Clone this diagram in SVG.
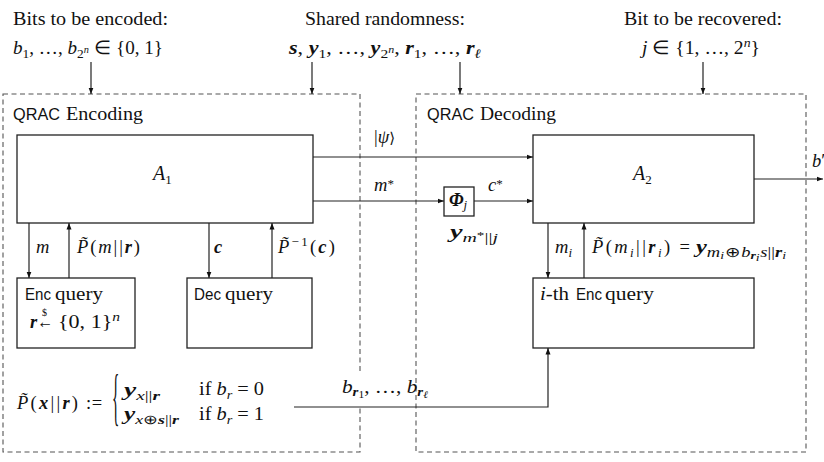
<svg xmlns="http://www.w3.org/2000/svg" width="824" height="462" viewBox="0 0 824 462">
<style>
.t{font-family:"Liberation Serif","Times New Roman",serif;font-size:18.5px;fill:#111}
.sf{font-family:"Liberation Sans",Arial,sans-serif;font-size:16.5px;fill:#111}
.i{font-style:italic}
.b{font-style:italic;font-weight:bold}
.s{font-size:13px}
.s2{font-size:14px}
.ss{font-size:10px}
.ss2{font-size:10.5px}
.big{font-size:20px}
.brace{font-size:64px}
.box{fill:#fff;stroke:#222;stroke-width:1.3}
.dash{fill:none;stroke:#555;stroke-width:1.1;stroke-dasharray:5 3.5}
.ln{fill:none;stroke:#222;stroke-width:1.2;marker-end:url(#ah)}
</style>
<defs>
<marker id="ah" markerWidth="7" markerHeight="6" refX="6.5" refY="3" orient="auto" markerUnits="userSpaceOnUse">
<path d="M0,0.5 L6.5,3 L0,5.5 z" fill="#111"/>
</marker>
</defs>
<rect width="824" height="462" fill="#fff"/>

<g id="bits-input">
<text class="t" x="13" y="25" textLength="155" lengthAdjust="spacingAndGlyphs">Bits to be encoded:</text>
<text class="t" x="13" y="54" textLength="150" lengthAdjust="spacingAndGlyphs"><tspan class="i">b</tspan><tspan class="s" dy="4">1</tspan><tspan dy="-4">, …, </tspan><tspan class="i">b</tspan><tspan class="s" dy="4">2</tspan><tspan class="ss i" dy="-5">n</tspan><tspan dy="1"> ∈ {0, 1}</tspan></text>
</g>

<g id="shared-randomness">
<text class="t" x="305" y="25" textLength="160" lengthAdjust="spacingAndGlyphs">Shared randomness:</text>
<text class="t" x="289" y="54" textLength="192" lengthAdjust="spacingAndGlyphs"><tspan class="b">s</tspan>, <tspan class="b">y</tspan><tspan class="s" dy="4">1</tspan><tspan dy="-4">, …, </tspan><tspan class="b">y</tspan><tspan class="s" dy="4">2</tspan><tspan class="ss i" dy="-5">n</tspan><tspan dy="1">, </tspan><tspan class="b">r</tspan><tspan class="s" dy="4">1</tspan><tspan dy="-4">, …, </tspan><tspan class="b">r</tspan><tspan class="s i" dy="4">ℓ</tspan></text>
</g>

<g id="bit-recover">
<text class="t" x="624" y="25" textLength="158" lengthAdjust="spacingAndGlyphs">Bit to be recovered:</text>
<text class="t" x="642" y="54" textLength="118" lengthAdjust="spacingAndGlyphs"><tspan class="i">j</tspan> ∈ {1, …, 2<tspan class="s i" dy="-7">n</tspan><tspan dy="7">}</tspan></text>
</g>

<g id="qrac-encoding">
<rect class="dash" x="3" y="94" width="357" height="358"/>
<text class="sf" x="13" y="120" textLength="47" lengthAdjust="spacingAndGlyphs">QRAC</text>
<text class="t" x="66" y="120" textLength="77" lengthAdjust="spacingAndGlyphs">Encoding</text>
</g>

<g id="ptilde-def">
<text class="t" x="17" y="409" textLength="61" lengthAdjust="spacing"><tspan class="i">P̃</tspan>(<tspan class="b">x</tspan>||<tspan class="b">r</tspan>)</text>
<text class="t" x="86" y="409">:<tspan dx="0.5">=</tspan></text>
<text class="t brace" transform="translate(112,418) scale(0.24,1)" x="0" y="0">{</text>
<text class="t" x="124" y="396" textLength="36" lengthAdjust="spacingAndGlyphs"><tspan class="b">y</tspan><tspan class="s i" dy="4">x</tspan><tspan class="s">||</tspan><tspan class="s b">r</tspan></text>
<text class="t" x="199" y="395" textLength="65" lengthAdjust="spacingAndGlyphs">if <tspan class="i">b</tspan><tspan class="s i" dy="4">r</tspan><tspan dy="-4"> = 0</tspan></text>
<text class="t" x="124" y="420" textLength="55" lengthAdjust="spacingAndGlyphs"><tspan class="b">y</tspan><tspan class="s i" dy="4">x</tspan><tspan class="s">⊕</tspan><tspan class="s b">s</tspan><tspan class="s">||</tspan><tspan class="s b">r</tspan></text>
<text class="t" x="199" y="420" textLength="65" lengthAdjust="spacingAndGlyphs">if <tspan class="i">b</tspan><tspan class="s i" dy="4">r</tspan><tspan dy="-4"> = 1</tspan></text>
</g>

<g id="b-label-bg">
<rect x="340" y="372" width="74" height="33" fill="#fff"/>
</g>

<g id="qrac-decoding">
<rect class="dash" x="416" y="94" width="390" height="358"/>
<text class="sf" x="427" y="120" textLength="47" lengthAdjust="spacingAndGlyphs">QRAC</text>
<text class="t" x="480" y="120" textLength="76" lengthAdjust="spacingAndGlyphs">Decoding</text>
</g>

<g id="A1">
<rect class="box" x="17" y="135" width="296" height="88"/>
<text class="t" x="153" y="180"><tspan class="i big">A</tspan><tspan class="s" dy="4">1</tspan></text>
</g>

<g id="A2">
<rect class="box" x="533" y="135" width="221" height="88"/>
<text class="t" x="633" y="180"><tspan class="i big">A</tspan><tspan class="s" dy="4">2</tspan></text>
</g>

<g id="phi">
<rect class="box" x="444" y="187" width="30" height="29"/>
<text class="t" x="449" y="206"><tspan class="b">Φ</tspan><tspan class="s i" dy="3">j</tspan></text>
</g>

<g id="enc-query">
<rect class="box" x="17" y="278" width="118" height="70"/>
<text class="sf" x="25" y="300" textLength="26" lengthAdjust="spacingAndGlyphs">Enc</text>
<text class="t" x="55" y="300" textLength="48" lengthAdjust="spacingAndGlyphs">query</text>
<text class="t" x="30" y="328"><tspan class="b">r</tspan></text>
<text class="t" x="37" y="328" textLength="16" lengthAdjust="spacingAndGlyphs">←</text>
<text class="t ss" x="42" y="316">$</text>
<text class="t" x="58" y="328" textLength="62" lengthAdjust="spacingAndGlyphs">{0, 1}<tspan class="s i" dy="-7">n</tspan></text>
</g>

<g id="dec-query">
<rect class="box" x="187" y="278" width="125" height="70"/>
<text class="sf" x="194" y="300" textLength="27" lengthAdjust="spacingAndGlyphs">Dec</text>
<text class="t" x="225" y="300" textLength="48" lengthAdjust="spacingAndGlyphs">query</text>
</g>

<g id="ith-enc-query">
<rect class="box" x="533" y="278" width="221" height="70"/>
<text class="t" x="540" y="300" textLength="29" lengthAdjust="spacingAndGlyphs"><tspan class="i">i</tspan>-th</text>
<text class="sf" x="576" y="300" textLength="26" lengthAdjust="spacingAndGlyphs">Enc</text>
<text class="t" x="605" y="300" textLength="49" lengthAdjust="spacingAndGlyphs">query</text>
</g>

<g id="connectors">
<line class="ln" x1="91" y1="62" x2="91" y2="94"/>
<line class="ln" x1="312" y1="62" x2="312" y2="94"/>
<line class="ln" x1="460" y1="62" x2="460" y2="94"/>
<line class="ln" x1="703" y1="62" x2="703" y2="94"/>

<line class="ln" x1="313" y1="157" x2="533" y2="157"/>
<text class="t" x="374" y="143"><tspan>|</tspan><tspan class="i">ψ</tspan><tspan style="font-family:'DejaVu Serif',serif;font-size:15px">⟩</tspan></text>

<line class="ln" x1="313" y1="201" x2="444" y2="201"/>
<text class="t" x="374" y="191"><tspan class="i">m</tspan><tspan class="s" dy="-3">*</tspan></text>
<line class="ln" x1="474" y1="201" x2="533" y2="201"/>
<text class="t" x="488" y="191"><tspan class="i">c</tspan><tspan class="s" dy="-3">*</tspan></text>
<text class="t" x="450" y="238" textLength="48" lengthAdjust="spacingAndGlyphs"><tspan class="b">y</tspan><tspan class="s i" dy="4">m</tspan><tspan class="ss" dy="-3">*</tspan><tspan class="s" dy="3">||</tspan><tspan class="s i">j</tspan></text>

<line class="ln" x1="754" y1="179" x2="823" y2="179"/>
<text class="t" x="812" y="167"><tspan class="i">b</tspan>′</text>

<line class="ln" x1="29" y1="223" x2="29" y2="278"/>
<text class="t" x="36" y="253"><tspan class="i">m</tspan></text>
<line class="ln" x1="69" y1="278" x2="69" y2="223"/>
<text class="t" x="77" y="253" textLength="63" lengthAdjust="spacing"><tspan class="i">P̃</tspan>(<tspan class="i">m</tspan>||<tspan class="b">r</tspan>)</text>

<line class="ln" x1="209" y1="223" x2="209" y2="278"/>
<text class="t" x="214" y="253"><tspan class="b">c</tspan></text>
<line class="ln" x1="272" y1="278" x2="272" y2="223"/>
<text class="t" x="278" y="253" textLength="57" lengthAdjust="spacing"><tspan class="i">P̃</tspan><tspan class="s" dy="-7">−1</tspan><tspan dy="7">(</tspan><tspan class="b">c</tspan>)</text>

<line class="ln" x1="548" y1="223" x2="548" y2="278"/>
<text class="t" x="555" y="253"><tspan class="i">m</tspan><tspan class="s i" dy="4">i</tspan></text>
<line class="ln" x1="584" y1="278" x2="584" y2="223"/>
<text class="t" x="592" y="253" textLength="98" lengthAdjust="spacing"><tspan class="i">P̃</tspan>(<tspan class="i">m</tspan><tspan class="s i" dy="4">i</tspan><tspan dy="-4">||</tspan><tspan class="b">r</tspan><tspan class="s i" dy="4">i</tspan><tspan dy="-4">) =</tspan></text>
<text class="t" x="696" y="253" textLength="90" lengthAdjust="spacingAndGlyphs"><tspan class="b">y</tspan><tspan class="s2 i" dy="4">m</tspan><tspan class="ss2 i" dy="2">i</tspan><tspan class="s2" dy="-2" dx="0.5">⊕</tspan><tspan class="s2 i" dx="0.5">b</tspan><tspan class="ss2 b" dy="2">r</tspan><tspan class="ss2 i" dy="2">i</tspan><tspan class="s2 i" dy="-4" dx="0.5">s</tspan><tspan class="s2">||</tspan><tspan class="s2 b">r</tspan><tspan class="ss2 i" dy="2">i</tspan></text>

<polyline class="ln" points="294,407 548,407 548,348"/>
<text class="t" x="342" y="393" textLength="86" lengthAdjust="spacingAndGlyphs"><tspan class="i">b</tspan><tspan class="s b" dy="3">r</tspan><tspan class="ss" dy="2">1</tspan><tspan dy="-5">, …, </tspan><tspan class="i">b</tspan><tspan class="s b" dy="3">r</tspan><tspan class="ss i" dy="2">ℓ</tspan></text>
</g>
</svg>
